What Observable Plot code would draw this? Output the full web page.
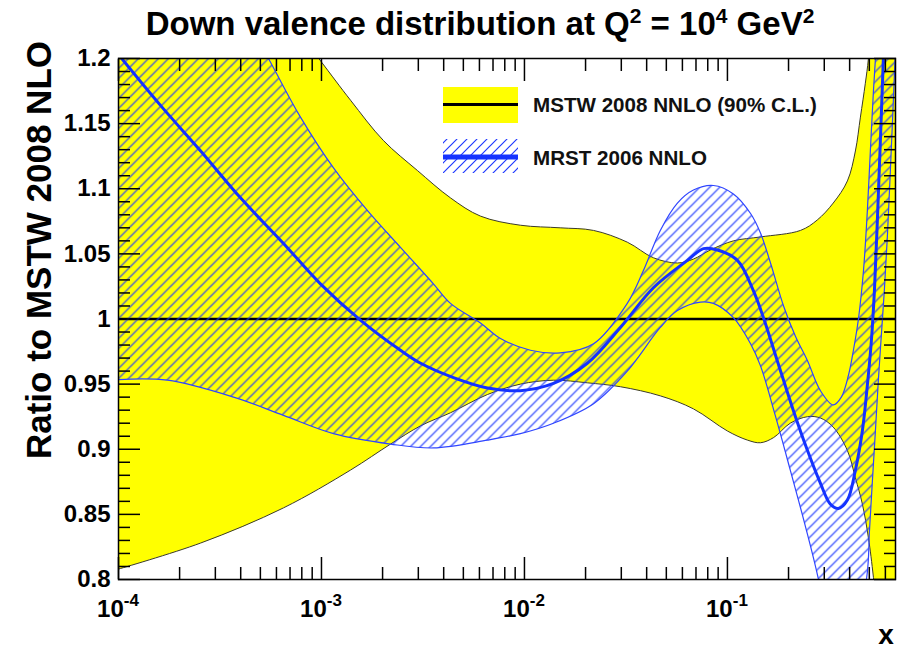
<!DOCTYPE html>
<html><head><meta charset="utf-8">
<script src="https://cdn.jsdelivr.net/npm/d3@7"></script>
<script src="https://cdn.jsdelivr.net/npm/@observablehq/plot@0.6"></script>
<style>
body{margin:0;background:#fff;}
#wrap{position:relative;width:903px;height:652px;overflow:hidden;background:#fff;font-family:"Liberation Sans",Arial,sans-serif;}
#title{position:absolute;left:0;top:8px;width:960px;text-align:center;font-weight:bold;font-size:33px;line-height:32px;white-space:nowrap;z-index:2;color:#000;}
#title .sup{font-size:21px;position:relative;top:-12px;}
#chart{position:absolute;left:0;top:36px;z-index:1;}
</style></head>
<body><div id="wrap"><div id="title">Down valence distribution at Q<span class="sup">2</span> = 10<span class="sup">4</span> GeV<span class="sup">2</span></div><div id="chart"></div></div>
<script>
// ---- data (x = momentum fraction, values = ratio to MSTW 2008 NLO) ----
const mstwUpX = [1e-4, 2.5e-4, 9.7e-4, 1.39e-3, 2.02e-3, 2.97e-3, 4.32e-3, 6.07e-3, 9.55e-3, 0.015, 0.0219, 0.0321, 0.0432, 0.0567, 0.068, 0.0824, 0.107, 0.1455, 0.229, 0.277, 0.332, 0.39, 0.427, 0.452, 0.478, 0.495, 0.518, 0.567, 0.673];
const mstwUpY = [1.40, 1.32, 1.200, 1.168, 1.137, 1.114, 1.093, 1.079, 1.072, 1.070, 1.068, 1.059, 1.047, 1.043, 1.046, 1.053, 1.060, 1.063, 1.068, 1.076, 1.089, 1.106, 1.129, 1.155, 1.181, 1.200, 1.245, 1.36, 1.55];
const mstwLoX = [1e-4, 2.54e-4, 6.5e-4, 1.39e-3, 2.19e-3, 3.08e-3, 4.32e-3, 6.57e-3, 9.55e-3, 0.0139, 0.0204, 0.0297, 0.0467, 0.068, 0.1, 0.1256, 0.1455, 0.169, 0.204, 0.248, 0.287, 0.332, 0.39, 0.427, 0.462, 0.495, 0.524, 0.567, 0.673];
const mstwLoY = [0.808, 0.828, 0.855, 0.884, 0.904, 0.918, 0.928, 0.942, 0.950, 0.953, 0.951, 0.948, 0.941, 0.931, 0.914, 0.907, 0.905, 0.909, 0.920, 0.925, 0.924, 0.917, 0.899, 0.878, 0.858, 0.832, 0.8015, 0.745, 0.63];
const mstwCentral = [1];

const mrstX = [1e-4, 1.61e-4, 2.54e-4, 3.99e-4, 6.5e-4, 9.88e-4, 1.56e-3, 2.45e-3, 3.08e-3, 4.47e-3, 6.57e-3, 9.55e-3, 0.0139, 0.0204, 0.0297, 0.0432, 0.0635, 0.0762, 0.0893, 0.112, 0.134, 0.1505, 0.176, 0.211, 0.248, 0.287, 0.321, 0.352, 0.39, 0.427, 0.462, 0.489, 0.512, 0.530, 0.548, 0.567, 0.587];
const mrstY = [1.203, 1.164, 1.129, 1.093, 1.058, 1.027, 0.999, 0.976, 0.966, 0.955, 0.947, 0.945, 0.9505, 0.966, 0.9935, 1.024, 1.045, 1.054, 1.053, 1.045, 1.022, 1.001, 0.968, 0.930, 0.899, 0.874, 0.858, 0.8545, 0.861, 0.884, 0.914, 0.949, 0.9835, 1.022, 1.076, 1.137, 1.202];
const mrstUpX = [1e-4, 2.54e-4, 5.48e-4, 7.88e-4, 1.146e-3, 1.69e-3, 2.45e-3, 3.56e-3, 4.32e-3, 6.07e-3, 7.62e-3, 0.0107, 0.015, 0.0219, 0.0321, 0.0385, 0.0467, 0.0567, 0.068, 0.0853, 0.107, 0.13, 0.1455, 0.163, 0.189, 0.216, 0.248, 0.287, 0.332, 0.364, 0.395, 0.4175, 0.442, 0.468, 0.489, 0.506, 0.524, 0.536, 0.554];
const mrstUpY = [1.383, 1.294, 1.200, 1.155, 1.116, 1.083, 1.055, 1.027, 1.012, 0.997, 0.985, 0.976, 0.974, 0.981, 1.012, 1.037, 1.068, 1.089, 1.099, 1.1025, 1.096, 1.081, 1.066, 1.043, 1.010, 0.987, 0.968, 0.945, 0.934, 0.940, 0.957, 0.976, 1.000, 1.037, 1.083, 1.129, 1.175, 1.200, 1.245];
const mrstLoX = [1e-4, 1.74e-4, 3.69e-4, 6.5e-4, 1.146e-3, 2.19e-3, 3.56e-3, 6.57e-3, 9.55e-3, 0.0139, 0.0219, 0.0321, 0.0467, 0.0567, 0.0737, 0.0853, 0.107, 0.13, 0.1455, 0.172, 0.204, 0.242, 0.281, 0.36, 0.484, 0.501, 0.518, 0.536, 0.554, 0.573, 0.593, 0.614, 0.635, 0.657, 0.680, 0.72];
const mrstLoY = [0.9535, 0.953, 0.940, 0.926, 0.912, 0.904, 0.901, 0.907, 0.912, 0.920, 0.935, 0.960, 0.9935, 1.0065, 1.013, 1.012, 1.001, 0.981, 0.964, 0.926, 0.884, 0.841, 0.800, 0.715, 0.800, 0.8376, 0.876, 0.9144, 0.9528, 0.9873, 1.0219, 1.064, 1.114, 1.168, 1.2215, 1.28];

// ---- axes / labels ----
const xDomain = [1e-4, 0.673];
const yDomain = [0.8, 1.2];
const yMajor = [0.8, 0.85, 0.9, 0.95, 1, 1.05, 1.1, 1.15, 1.2];
const xMajor = [1e-4, 1e-3, 1e-2, 1e-1];
const xMajorExp = ["-4", "-3", "-2", "-1"];
const seriesNames = ["MSTW 2008 NNLO (90% C.L.)", "MRST 2006 NNLO"];
const titleY = "Ratio to MSTW 2008 NLO";
const titleX = "x";

const yMinor = d3.range(80, 121).map(d => d / 100).filter(v => !yMajor.some(m => Math.abs(m - v) < 1e-9));
const xMinor = [];
xMajor.forEach(d => { for (let k = 2; k <= 9; k++) if (d * k <= xDomain[1]) xMinor.push(d * k); });

const pts = (xs, ys) => xs.map((x, i) => ({x, y: ys[i]}));
const mstwUp = pts(mstwUpX, mstwUpY), mstwLo = pts(mstwLoX, mstwLoY);
const mrstUp = pts(mrstUpX, mrstUpY), mrstLo = pts(mrstLoX, mrstLoY), mrst = pts(mrstX, mrstY);
const mstwPoly = [...mstwUp, ...mstwLo.slice().reverse()];
const mrstPoly = [...mrstUp, ...mrstLo.slice().reverse()];

const YELLOW = "#ffff00", BLUE = "#1432ff", HATCH = "#1e38ff";
const curve = "catmull-rom";
const noText = () => "";

const plot = Plot.plot({
  width: 903, height: 616,
  marginLeft: 118, marginRight: 8, marginTop: 22, marginBottom: 73,
  x: {type: "log", domain: xDomain},
  y: {domain: yDomain},
  style: {fontFamily: "'Liberation Sans', Arial, sans-serif", background: "transparent", overflow: "visible"},
  marks: [
    Plot.line(mstwPoly, {x: "x", y: "y", fill: YELLOW, stroke: "none", curve, clip: true}),
    Plot.line(mstwUp, {x: "x", y: "y", stroke: "#3a3a2a", strokeWidth: 1, curve, clip: true}),
    Plot.line(mstwLo, {x: "x", y: "y", stroke: "#3a3a2a", strokeWidth: 1, curve, clip: true}),
    Plot.ruleY(mstwCentral, {stroke: "black", strokeWidth: 2.6}),
    Plot.line(mrstPoly, {x: "x", y: "y", fill: "url(#hatch)", stroke: "none", curve, clip: true}),
    Plot.line(mrstUp, {x: "x", y: "y", stroke: "#2f45ff", strokeWidth: 1.2, curve, clip: true}),
    Plot.line(mrstLo, {x: "x", y: "y", stroke: "#2f45ff", strokeWidth: 1.2, curve, clip: true}),
    Plot.line(mrst, {x: "x", y: "y", stroke: BLUE, strokeWidth: 3, curve, clip: true}),
    Plot.frame({stroke: "black", strokeWidth: 1.5}),
    Plot.axisY(yMajor, {anchor: "left", tickSize: -22, tickPadding: 30, strokeWidth: 1.5, label: null, fontSize: 24, fontWeight: "bold", tickFormat: d => String(d)}),
    Plot.axisY(yMinor, {anchor: "left", tickSize: -12, strokeWidth: 1.5, label: null, tickFormat: noText}),
    Plot.axisY(yMajor, {anchor: "right", tickSize: -22, strokeWidth: 1.5, label: null, tickFormat: noText}),
    Plot.axisY(yMinor, {anchor: "right", tickSize: -12, strokeWidth: 1.5, label: null, tickFormat: noText}),
    Plot.axisX(xMajor, {anchor: "bottom", tickSize: -22, strokeWidth: 1.5, label: null, tickFormat: noText}),
    Plot.axisX(xMinor, {anchor: "bottom", tickSize: -12, strokeWidth: 1.5, label: null, tickFormat: noText}),
    Plot.axisX(xMajor, {anchor: "top", tickSize: -22, strokeWidth: 1.5, label: null, tickFormat: noText}),
    Plot.axisX(xMinor, {anchor: "top", tickSize: -12, strokeWidth: 1.5, label: null, tickFormat: noText})
  ]
});
document.getElementById("chart").appendChild(plot);

const svg = d3.select(plot);
const defs = svg.insert("defs", ":first-child");
const pat = defs.append("pattern").attr("id", "hatch").attr("patternUnits", "userSpaceOnUse").attr("width", 10).attr("height", 10);
pat.append("path").attr("d", "M-1,1 l2,-2 M0,10 l10,-10 M9,11 l2,-2").attr("stroke", HATCH).attr("stroke-width", 1.2).attr("fill", "none");

// x tick labels 10^n
const sx = plot.scale("x");
xMajor.forEach((v, i) => {
  const t = svg.append("text").attr("x", sx.apply(v)).attr("y", 581).attr("text-anchor", "middle")
    .attr("font-size", 24).attr("font-weight", "bold").attr("fill", "black");
  t.append("tspan").text("10");
  t.append("tspan").attr("dy", -11).attr("font-size", 17).text(xMajorExp[i]);
});

// axis titles
svg.append("text").attr("transform", "translate(51,5) rotate(-90)").attr("text-anchor", "end")
  .attr("font-size", 35).attr("font-weight", "bold").attr("fill", "black").text(titleY);
svg.append("text").attr("x", 886).attr("y", 608).attr("text-anchor", "middle")
  .attr("font-size", 28).attr("font-weight", "bold").attr("fill", "black").text(titleX);

// legend
const lg = svg.append("g");
lg.append("rect").attr("x", 443).attr("y", 51).attr("width", 75).attr("height", 36).attr("fill", YELLOW);
lg.append("line").attr("x1", 443).attr("x2", 518).attr("y1", 68.5).attr("y2", 68.5).attr("stroke", "black").attr("stroke-width", 3);
lg.append("rect").attr("x", 443).attr("y", 103).attr("width", 75).attr("height", 34).attr("fill", "url(#hatch)");
lg.append("line").attr("x1", 443).attr("x2", 518).attr("y1", 121).attr("y2", 121).attr("stroke", BLUE).attr("stroke-width", 5);
lg.append("text").attr("x", 533).attr("y", 76).attr("text-anchor", "start").attr("font-size", 20.6).attr("font-weight", "bold").attr("fill", "#111").text(seriesNames[0]);
lg.append("text").attr("x", 533).attr("y", 129).attr("text-anchor", "start").attr("font-size", 20.6).attr("font-weight", "bold").attr("fill", "#111").text(seriesNames[1]);
</script></body></html>
